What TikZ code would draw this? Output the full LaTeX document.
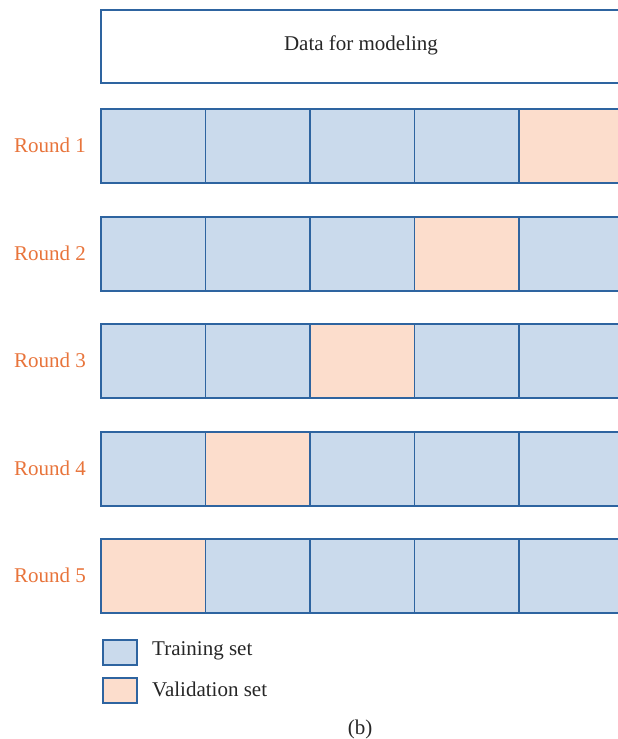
\documentclass[tikz,border=0pt]{standalone}
\usepackage{fontspec}
\setmainfont{Liberation Serif}
\definecolor{cellblue}{HTML}{CADAEC}
\definecolor{cellorange}{HTML}{FCDDCC}
\definecolor{edgeblue}{HTML}{2E64A0}
\definecolor{labelorange}{HTML}{E8743B}
\definecolor{textgray}{HTML}{262626}
\begin{document}
\begin{tikzpicture}[x=1pt,y=-1pt,
  cellbox/.style={draw=edgeblue,line width=1.5pt,minimum width=104.5pt,minimum height=74pt,inner sep=0pt,anchor=north west},
  train/.style={cellbox,fill=cellblue},
  valid/.style={cellbox,fill=cellorange},
  roundlbl/.style={text=labelorange,font=\fontsize{21}{24}\selectfont,anchor=east,inner sep=0pt},
  legbox/.style={draw=edgeblue,line width=1.5pt,minimum width=34pt,minimum height=25pt,inner sep=0pt,anchor=north west},
  legtext/.style={text=textgray,font=\fontsize{21}{24}\selectfont,anchor=west,inner sep=0pt},
  plain/.style={text=textgray,font=\fontsize{21}{24}\selectfont}]
\useasboundingbox (0,0) rectangle (618,739);
\node[draw=edgeblue,line width=1.5pt,minimum width=530pt,minimum height=73pt,inner sep=0pt,anchor=north west] (data) at (100,9) {};
\node[plain] (datalbl) at (361,45) {Data for modeling};
\foreach \r/\y/\v in {1/108/5,2/216/4,3/323/3,4/431/2,5/538/1}{
  \foreach \c in {1,...,5}{
    \ifnum\c=\v
      \node[valid] (c\r\c) at ({100+(\c-1)*104.5},\y) {};
    \else
      \node[train] (c\r\c) at ({100+(\c-1)*104.5},\y) {};
    \fi
  }
  \node[roundlbl] (r\r) at (86,\y+37) {Round \r};
}
\node[legbox,fill=cellblue] (legt) at (102,639) {};
\node[legbox,fill=cellorange] (legv) at (102,677) {};
\node[legtext] (legtl) at (152,651) {Training set};
\node[legtext] (legvl) at (152,689) {Validation set};
\node[plain] (cap) at (360,729) {(b)};
\end{tikzpicture}
\end{document}
